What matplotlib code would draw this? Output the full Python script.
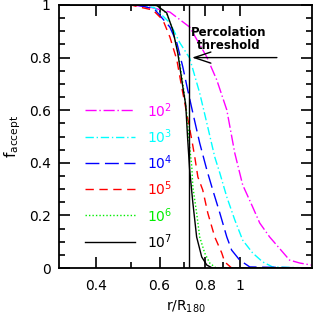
import numpy as np
import matplotlib.pyplot as plt
from matplotlib.ticker import FixedLocator, NullFormatter

# curves: fraction accepted vs r/R180
r_1e2 = [0.316, 0.50, 0.564, 0.641, 0.727, 0.811, 0.864, 0.921, 0.969, 1.019, 1.086, 1.136, 1.210, 1.314, 1.374, 1.465, 1.58]
f_1e2 = [1.0, 1.0, 0.992, 0.973, 0.916, 0.802, 0.715, 0.601, 0.437, 0.316, 0.232, 0.171, 0.118, 0.061, 0.030, 0.019, 0.011]

r_1e3 = [0.316, 0.52, 0.58, 0.641, 0.683, 0.727, 0.775, 0.811, 0.853, 0.881, 0.921, 0.969, 1.019, 1.086, 1.158, 1.233, 1.58]
f_1e3 = [1.0, 1.0, 0.99, 0.932, 0.856, 0.798, 0.665, 0.551, 0.422, 0.361, 0.270, 0.183, 0.106, 0.057, 0.023, 0.004, 0.0]

r_1e4 = [0.316, 0.52, 0.58, 0.641, 0.670, 0.696, 0.718, 0.742, 0.775, 0.811, 0.842, 0.881, 0.921, 0.950, 1.0, 1.066, 1.58]
f_1e4 = [1.0, 1.0, 0.985, 0.916, 0.856, 0.764, 0.677, 0.589, 0.475, 0.373, 0.297, 0.209, 0.118, 0.068, 0.030, 0.004, 0.0]

r_1e5 = [0.316, 0.50, 0.529, 0.575, 0.613, 0.641, 0.670, 0.691, 0.737, 0.751, 0.766, 0.790, 0.816, 0.853, 0.892, 0.909, 0.95, 1.58]
f_1e5 = [1.0, 1.0, 0.992, 0.981, 0.943, 0.878, 0.791, 0.688, 0.487, 0.422, 0.346, 0.297, 0.209, 0.118, 0.057, 0.023, 0.0, 0.0]

r_1e6 = [0.316, 0.54, 0.59, 0.628, 0.653, 0.676, 0.698, 0.712, 0.727, 0.737, 0.742, 0.760, 0.775, 0.800, 0.826, 0.86, 1.58]
f_1e6 = [1.0, 1.0, 0.998, 0.968, 0.903, 0.815, 0.69, 0.60, 0.460, 0.384, 0.308, 0.209, 0.118, 0.057, 0.019, 0.0, 0.0]

r_1e7 = [0.316, 0.54, 0.590, 0.628, 0.653, 0.674, 0.696, 0.709, 0.718, 0.727, 0.742, 0.760, 0.785, 0.811, 0.84, 1.58]
f_1e7 = [1.0, 1.0, 0.998, 0.970, 0.905, 0.817, 0.688, 0.620, 0.487, 0.373, 0.247, 0.118, 0.042, 0.011, 0.0, 0.0]

labels = ['$10^2$', '$10^3$', '$10^4$', '$10^5$', '$10^6$', '$10^7$']
colors = ['magenta', 'cyan', 'blue', 'red', '#00ee00', 'black']
styles = [(0, (8, 2, 1, 2)), (0, (6, 2, 1, 2)), (0, (10, 4)), (0, (6, 4)), (0, (1, 1.5)), '-']
curves = [(r_1e2, f_1e2), (r_1e3, f_1e3), (r_1e4, f_1e4), (r_1e5, f_1e5), (r_1e6, f_1e6), (r_1e7, f_1e7)]
legend_y = [0.6, 0.5, 0.4, 0.3, 0.2, 0.1]
r_threshold = 0.725

fig = plt.figure(figsize=(3.13, 3.14), dpi=100)
ax = fig.add_axes([59 / 313, 46 / 314, 253 / 313, 263 / 314])
ax.set_xscale('log')
ax.set_xlim(10 ** -0.5, 10 ** 0.2)
ax.set_ylim(0, 1)

for (r, f), c, ls in zip(curves, colors, styles):
    ax.plot(r, f, color=c, ls=ls, lw=1.0)

# hand-drawn legend inside the plot
for lab, c, ls, yy in zip(labels, colors, styles, legend_y):
    ax.plot([0.373, 0.513], [yy, yy], color=c, ls=ls, lw=1.0)
    ax.text(0.555, yy, lab, color=c, fontsize=10, va='center', ha='left', fontweight='semibold')

ax.axvline(r_threshold, color='black', lw=1.0)
ax.annotate('', xy=(r_threshold, 0.8), xytext=(1.29, 0.8),
            arrowprops=dict(arrowstyle='->,head_length=1.2,head_width=0.4', lw=1.0, color='black'))
ax.text(0.93, 0.87, 'Percolation\nthreshold', ha='center', va='center', fontsize=8.5,
        fontweight='semibold', linespacing=1.0)

ax.xaxis.set_major_locator(FixedLocator([0.4, 0.6, 0.8, 1.0]))
ax.xaxis.set_minor_locator(FixedLocator([0.5, 0.7, 0.9]))
ax.xaxis.set_minor_formatter(NullFormatter())
ax.set_xticklabels(['0.4', '0.6', '0.8', '1'])
ax.set_yticks([0, 0.2, 0.4, 0.6, 0.8, 1.0])
ax.set_yticklabels(['0', '0.2', '0.4', '0.6', '0.8', '1'])
ax.yaxis.set_minor_locator(FixedLocator(np.arange(0, 1.001, 0.05)))
ax.tick_params(which='both', direction='in', top=True, right=True, labelsize=10, width=1.2)
ax.tick_params(which='major', length=8)
ax.tick_params(which='minor', length=4)
ax.tick_params(axis='x', which='major', pad=8)
ax.tick_params(axis='y', which='major', pad=6)
for s in ax.spines.values():
    s.set_linewidth(1.3)

ax.set_xlabel('r/R$_{180}$', fontsize=10, labelpad=4)
ax.set_ylabel('f$_{\\mathrm{accept}}$', fontsize=11, labelpad=4)

fig.savefig('out.png', dpi=100)
